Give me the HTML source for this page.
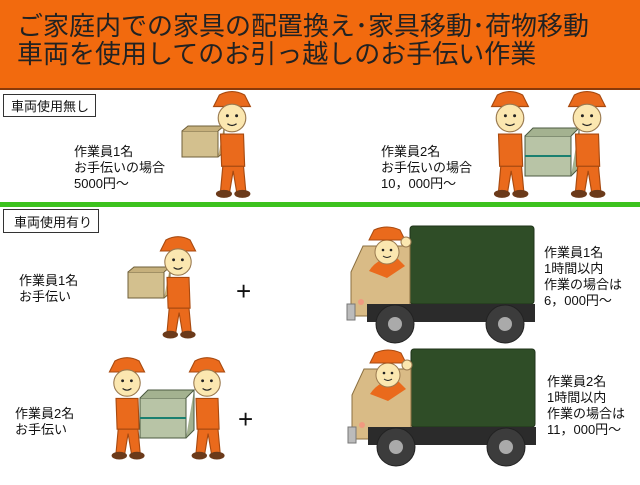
<!DOCTYPE html>
<html><head><meta charset="utf-8"><style>
body{margin:0;width:640px;height:480px;overflow:hidden;background:#fff;font-family:"Liberation Sans","Noto Sans CJK JP",sans-serif}
svg text{font-family:"Liberation Sans","Noto Sans CJK JP",sans-serif}
</style></head><body>
<svg width="640" height="480" viewBox="0 0 640 480" xmlns="http://www.w3.org/2000/svg">
<defs>
<g id="worker">
 <path d="M-16,-30 L16,-30 L11,-40 Q0,-46 -11,-40 Z" fill="#ea6a1c" stroke="#a84a10" stroke-width="1"/>
 <circle cx="0" cy="-20" r="12" fill="#fbe7b0" stroke="#9a7a50" stroke-width="1"/>
 <circle cx="-4" cy="-22" r="1.3" fill="#222"/><circle cx="4" cy="-22" r="1.3" fill="#222"/>
 <path d="M-4,-15 Q0,-12 4,-15" fill="none" stroke="#222" stroke-width="1"/>
 <path d="M-10,-6 L10,-6 L11,22 L-9,22 Z" fill="#ea6a1c" stroke="#a84a10" stroke-width="1"/>
 <path d="M-8,22 L-10,44 L-2,44 L1,26 L4,44 L12,44 L10,22 Z" fill="#ea6a1c" stroke="#a84a10" stroke-width="1"/>
 <ellipse cx="-7" cy="46" rx="7" ry="3.5" fill="#6b3a1a"/><ellipse cx="9" cy="46" rx="7" ry="3.5" fill="#6b3a1a"/>
</g>
<g id="truck">
 <rect x="63" y="0" width="124" height="78" rx="3" fill="#2f4d27" stroke="#1f3319"/>
 <path d="M4,90 L4,46 L16,20 L63,20 L63,90 Z" fill="#d9bb86" stroke="#8a6f40"/>
 <rect x="20" y="78" width="168" height="18" fill="#2b2b2b"/>
 <rect x="0" y="78" width="8" height="16" fill="#bbb" stroke="#777"/>
 <circle cx="14" cy="76" r="3" fill="#f09a80"/>
 <circle cx="48" cy="98" r="19" fill="#3c3c3c" stroke="#222"/><circle cx="48" cy="98" r="7" fill="#aaa"/>
 <circle cx="158" cy="98" r="19" fill="#3c3c3c" stroke="#222"/><circle cx="158" cy="98" r="7" fill="#aaa"/>
 <path d="M22,45 Q30,32 48,30 L58,40 L40,52 Z" fill="#ea6a1c"/>
 <circle cx="40" cy="26" r="12" fill="#fbe7b0" stroke="#9a7a50"/>
 <circle cx="36" cy="24" r="1.3" fill="#222"/><circle cx="44" cy="24" r="1.3" fill="#222"/>
 <path d="M36,30 Q40,33 44,30" fill="none" stroke="#222"/>
 <path d="M22,14 L58,14 L53,4 Q40,-2 27,4 Z" fill="#ea6a1c" stroke="#a84a10"/>
 <circle cx="59" cy="16" r="5" fill="#fbe7b0" stroke="#9a7a50"/>
</g>
<g id="box"><rect x="0" y="0" width="36" height="26" fill="#d3c08e" stroke="#6f5f3a"/><path d="M0,0 L6,-5 L42,-5 L36,0 M36,26 L42,21 L42,-5" fill="#c6b07c" stroke="#6f5f3a"/></g>
<g id="bigbox"><rect x="0" y="0" width="46" height="40" fill="#b8c4a6" stroke="#4b5a40"/><path d="M0,0 L8,-8 L54,-8 L46,0 M46,40 L54,32 L54,-8" fill="#a4b290" stroke="#4b5a40"/><line x1="0" y1="20" x2="46" y2="20" stroke="#1a8070" stroke-width="2"/></g>
</defs>

<rect x="0" y="0" width="640" height="89" fill="#f26a0e"/>
<rect x="0" y="88" width="640" height="2" fill="#8a3a0a"/>
<text x="17" y="35" font-size="26" fill="#222">ご家庭内での家具の配置換え･家具移動･荷物移動</text>
<text x="17" y="63" font-size="26" fill="#222">車両を使用してのお引っ越しのお手伝い作業</text>

<rect x="3.5" y="94.5" width="92" height="22" fill="#fff" stroke="#333"/>
<text x="11" y="111" font-size="13" fill="#111">車両使用無し</text>

<use href="#box" x="182" y="131"/>
<use href="#worker" transform="translate(232,141) scale(1.15)"/>
<text font-size="13" fill="#111"><tspan x="74" y="156">作業員1名</tspan><tspan x="74" y="172">お手伝いの場合</tspan><tspan x="74" y="188">5000円～</tspan></text>

<use href="#worker" transform="translate(510,141) scale(1.15)"/>
<use href="#bigbox" x="525" y="136"/>
<use href="#worker" transform="translate(587,141) scale(1.15)"/>
<text font-size="13" fill="#111"><tspan x="381" y="156">作業員2名</tspan><tspan x="381" y="172">お手伝いの場合</tspan><tspan x="381" y="188">10，000円～</tspan></text>

<rect x="0" y="202" width="640" height="5" fill="#3cc21e"/>

<rect x="3.5" y="209.5" width="95" height="23" fill="#fff" stroke="#333"/>
<text x="14" y="227" font-size="13" fill="#111">車両使用有り</text>

<text font-size="13" fill="#111"><tspan x="19" y="285">作業員1名</tspan><tspan x="19" y="301">お手伝い</tspan></text>
<use href="#box" x="128" y="272"/>
<use href="#worker" transform="translate(178,284) scale(1.1)"/>
<text x="236" y="300" font-size="26" fill="#111">+</text>
<use href="#truck" x="347" y="226"/>
<text font-size="13" fill="#111"><tspan x="544" y="257">作業員1名</tspan><tspan x="544" y="273">1時間以内</tspan><tspan x="544" y="289">作業の場合は</tspan><tspan x="544" y="305">6，000円～</tspan></text>

<text font-size="13" fill="#111"><tspan x="15" y="418">作業員2名</tspan><tspan x="15" y="434">お手伝い</tspan></text>
<use href="#worker" transform="translate(127,405) scale(1.1)"/>
<use href="#bigbox" x="140" y="398"/>
<use href="#worker" transform="translate(207,405) scale(1.1)"/>
<text x="238" y="428" font-size="26" fill="#111">+</text>
<use href="#truck" x="348" y="349"/>
<text font-size="13" fill="#111"><tspan x="547" y="386">作業員2名</tspan><tspan x="547" y="402">1時間以内</tspan><tspan x="547" y="418">作業の場合は</tspan><tspan x="547" y="434">11，000円～</tspan></text>
</svg>
</body></html>
